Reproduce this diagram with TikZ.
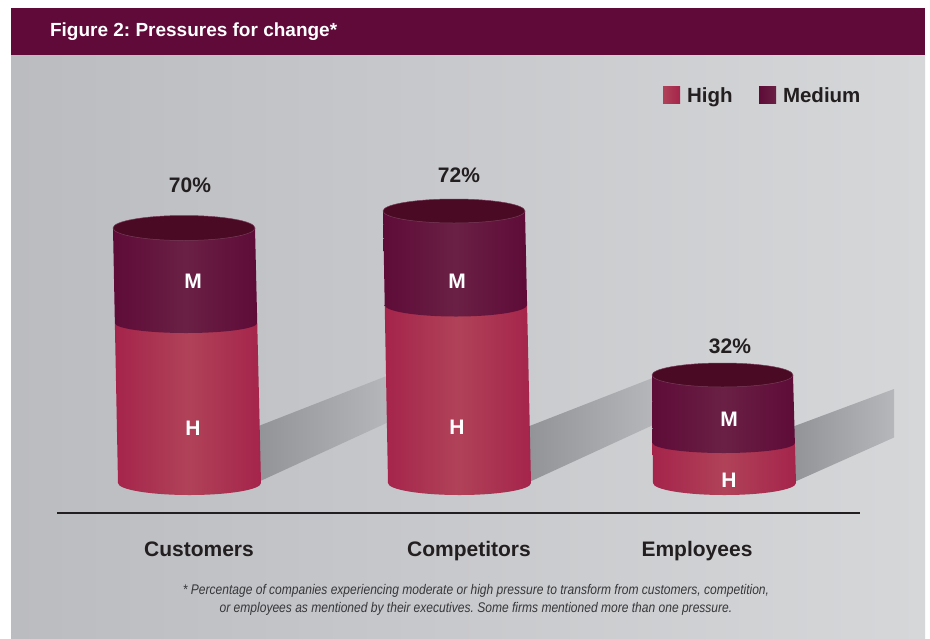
\documentclass[tikz,border=0pt]{standalone}
\usepackage{fontspec}
\setmainfont{Liberation Sans}
\newfontfamily\footfont[FakeStretch=0.86]{Liberation Sans}
\frenchspacing
\definecolor{bar}{RGB}{95,10,57}
\definecolor{bgL}{RGB}{187,188,192}
\definecolor{bgR}{RGB}{214,215,217}
\definecolor{hiE}{RGB}{165,36,75}
\definecolor{hiM}{RGB}{176,66,88}
\definecolor{meE}{RGB}{94,11,56}
\definecolor{meM}{RGB}{106,32,68}
\definecolor{topc}{RGB}{74,10,36}
\definecolor{topl}{RGB}{120,60,90}
\definecolor{shL}{RGB}{146,147,151}
\definecolor{shR}{RGB}{182,183,186}
\definecolor{ink}{RGB}{35,31,32}
\definecolor{footink}{RGB}{55,55,58}
\newcommand\mycyl[9]{%
  \pgfmathsetmacro\xlm{#1+(#4-#1)*(#7-#3)/(#6-#3)}%
  \pgfmathsetmacro\xrm{#2+(#5-#2)*(#7-#3)/(#6-#3)}%
  \pgfmathsetmacro\rxt{(#2-#1)/2}%
  \pgfmathsetmacro\rxm{(\xrm-\xlm)/2}%
  \pgfmathsetmacro\rxb{(#5-#4)/2}%
  \shade[left color=hiE,right color=hiE,middle color=hiM]
    (\xlm,-#7) -- (#4,-#6) arc[start angle=180,end angle=360,x radius=\rxb,y radius=12] -- (\xrm,-#7) -- cycle;
  \shade[left color=meE,right color=meE,middle color=meM]
    (#1,-#3) -- (\xlm,-#7) arc[start angle=180,end angle=360,x radius=\rxm,y radius=#8] -- (#2,-#3) -- cycle;
  \filldraw[fill=topc,draw=topl,line width=0.5pt] (#1+\rxt,-#3) ellipse[x radius=\rxt,y radius=#9];
}
\begin{document}
\begin{tikzpicture}[x=1pt,y=1pt,
  txt/.style={inner sep=0pt,outer sep=0pt},
  pct/.style={txt,anchor=base,text=ink,font=\bfseries\fontsize{21}{21}\selectfont},
  seg/.style={txt,anchor=base,text=white,font=\bfseries\fontsize{21}{21}\selectfont},
  cat/.style={txt,anchor=base,text=ink,font=\bfseries\fontsize{21}{21}\selectfont},
  leg/.style={txt,anchor=base west,text=ink,font=\bfseries\fontsize{20.5}{20.5}\selectfont},
  shadowbar/.style={left color=shL,right color=shR}]
\useasboundingbox (0,0) rectangle (930,-638);
\fill[white] (0,0) rectangle (930,-638);
% panel and title bar
\shade[left color=bgL,right color=bgR] (11,-55) rectangle (925,-638);
\fill[bar] (11,-8) rectangle (925,-55);
\node[txt,anchor=base west,text=white,font=\bfseries\fontsize{19}{19}\selectfont] (title) at (50,-36) {Figure 2: Pressures for change*};
% legend
\shade[left color=hiM,right color=hiE] (663,-86) rectangle (680,-103);
\node[leg] (lhigh) at (687,-102) {High};
\shade[left color=meE,right color=meM] (759,-86) rectangle (776,-103);
\node[leg] (lmed) at (783,-102) {Medium};
% shadows
\shade[shadowbar] (256,-427) -- (256,-483) -- (390,-421.4) -- (390,-374.7) -- cycle;
\shade[shadowbar] (527,-427) -- (527,-483) -- (655,-424.1) -- (655,-377.1) -- cycle;
\shade[shadowbar] (792,-427) -- (792,-483) -- (894,-437.5) -- (894,-389) -- cycle;
% baseline
\draw[ink,line width=1.4pt] (57,-513) -- (860,-513);
% cylinders
\mycyl{113}{255}{228}{118}{261}{483}{323}{10}{12.5}
\mycyl{383}{525}{211}{388}{531}{483}{305}{11.5}{12}
\mycyl{652}{793}{375}{653}{796}{483}{443}{10}{12}
% values
\node[pct] (p1) at (190,-192) {70\%};
\node[pct] (p2) at (459,-182) {72\%};
\node[pct] (p3) at (730,-353) {32\%};
\node[seg] (m1) at (193,-288) {M};
\node[seg] (h1) at (193,-435) {H};
\node[seg] (m2) at (457,-288) {M};
\node[seg] (h2) at (457,-434) {H};
\node[seg] (m3) at (729,-426) {M};
\node[seg] (h3) at (729,-487) {H};
% categories
\node[cat] (c1) at (199,-556) {Customers};
\node[cat] (c2) at (469,-556) {Competitors};
\node[cat] (c3) at (697,-556) {Employees};
% footnote
\node[txt,anchor=base,text=footink,align=center,font=\footfont\itshape\fontsize{14}{18}\selectfont] (foot) at (476,-612)
  {* Percentage of companies experiencing moderate or high pressure to transform from customers, competition,\\
   or employees as mentioned by their executives. Some firms mentioned more than one pressure.};
\end{tikzpicture}
\end{document}
